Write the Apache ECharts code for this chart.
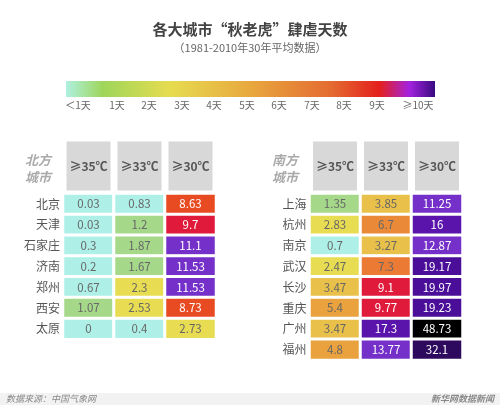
<!DOCTYPE html><html><head><meta charset="utf-8"><script src="https://cdn.jsdelivr.net/npm/echarts@6/dist/echarts.min.js"></script><style>body{margin:0}#c{width:500px;height:405px}</style></head><body><div id="c"></div><script>
const headers=['≥35℃','≥33℃','≥30℃'];
const northCities=['北京','天津','石家庄','济南','郑州','西安','太原'];
const north35=[0.03,0.03,0.3,0.2,0.67,1.07,0];
const north33=[0.83,1.2,1.87,1.67,2.3,2.53,0.4];
const north30=[8.63,9.7,11.1,11.53,11.53,8.73,2.73];
const southCities=['上海','杭州','南京','武汉','长沙','重庆','广州','福州'];
const south35=[1.35,2.83,0.7,2.47,3.47,5.4,3.47,4.8];
const south33=[3.85,6.7,3.27,7.3,9.1,9.77,17.3,13.77];
const south30=[11.25,16,12.87,19.17,19.97,19.23,48.73,32.1];
const legendLabels=['＜1天','1天','2天','3天','4天','5天','6天','7天','8天','9天','≥10天'];
const font='"Noto Sans CJK SC", sans-serif';
function build(cols){const d=[];cols.forEach((arr,x)=>arr.forEach((v,y)=>d.push({value:[x,y,v],label:{color:v>=8?'#fff':'#666'}})));return d;}
const pieces=[{lt:1,color:'#aef0e8'},{gte:1,lt:2,color:'#a6d88a'},{gte:2,lt:3,color:'#e8dc52'},{gte:3,lt:4,color:'#e8c04a'},{gte:4,lt:6,color:'#e9a23e'},{gte:6,lt:7,color:'#ea8a38'},{gte:7,lt:8,color:'#ea7a34'},{gte:8,lt:9,color:'#e84a22'},{gte:9,lt:10,color:'#e01a3a'},{gte:10,lt:14,color:'#7430c8'},{gte:14,lt:18,color:'#5a14ac'},{gte:18,lt:25,color:'#4a0e98'},{gte:25,lt:40,color:'#2e0a5e'},{gte:40,color:'#000'}];
function xAx(i){return{type:'category',gridIndex:i,data:headers,position:'top',axisLine:{show:false},axisTick:{show:false},axisLabel:{margin:3,backgroundColor:'#d8d8d8',width:44,height:49,lineHeight:49,align:'center',color:'#555',fontSize:12,fontWeight:'bold',fontFamily:font}};}
function yAx(i,c){return{type:'category',gridIndex:i,data:c,inverse:true,axisLine:{show:false},axisTick:{show:false},axisLabel:{margin:3,color:'#555',fontSize:12,fontFamily:font}};}
const gx=66,gw=369;
const lx=[78,117,149,182,214,247,279,312,344,377,418];
const graphics=[
{type:'text',left:'center',top:22,style:{text:'各大城市“秋老虎”肆虐天数',font:'bold 15px '+font,fill:'#444'}},
{type:'text',left:'center',top:42,style:{text:'（1981-2010年30年平均数据）',font:'11px '+font,fill:'#666'}},
{type:'rect',shape:{x:gx,y:81,width:gw,height:16},style:{fill:new echarts.graphic.LinearGradient(0,0,1,0,[{offset:0,color:'#aef0e0'},{offset:0.1,color:'#9ed65a'},{offset:0.28,color:'#e6dc50'},{offset:0.5,color:'#e8a83e'},{offset:0.72,color:'#e46a30'},{offset:0.85,color:'#e4201c'},{offset:0.93,color:'#a422e0'},{offset:1,color:'#3a0a80'}])}},
{type:'text',left:25,top:152,style:{text:'北方\n城市',font:'italic bold 13px '+font,fill:'#aaa',lineHeight:17}},
{type:'text',left:272,top:152,style:{text:'南方\n城市',font:'italic bold 13px '+font,fill:'#aaa',lineHeight:17}},
{type:'rect',shape:{x:0,y:393,width:500,height:12},style:{fill:'#f2f2f2'}},
{type:'text',left:6,top:394,style:{text:'数据来源：中国气象网',font:'italic 9px '+font,fill:'#888'}},
{type:'text',right:6,top:394,style:{text:'新华网数据新闻',font:'italic bold 9px '+font,fill:'#888'}}
];
legendLabels.forEach((t,i)=>graphics.push({type:'text',x:lx[i],y:100,style:{text:t,font:'10px '+font,fill:'#666',align:'center'}}));
const chart=echarts.init(document.getElementById('c'));
chart.setOption({animation:false,graphic:graphics,
grid:[{left:63,top:193.6,width:153,height:145.6},{left:309.5,top:193.6,width:153,height:166.4}],
xAxis:[xAx(0),xAx(1)],yAxis:[yAx(0,northCities),yAx(1,southCities)],
visualMap:{type:'piecewise',show:false,dimension:2,pieces:pieces,seriesIndex:[0,1]},
series:[{type:'heatmap',xAxisIndex:0,yAxisIndex:0,data:build([north35,north33,north30]),itemStyle:{borderColor:'#fff',borderWidth:3},label:{show:true,fontSize:11.5,fontFamily:font}},
{type:'heatmap',xAxisIndex:1,yAxisIndex:1,data:build([south35,south33,south30]),itemStyle:{borderColor:'#fff',borderWidth:3},label:{show:true,fontSize:11.5,fontFamily:font}}]});
</script></body></html>
